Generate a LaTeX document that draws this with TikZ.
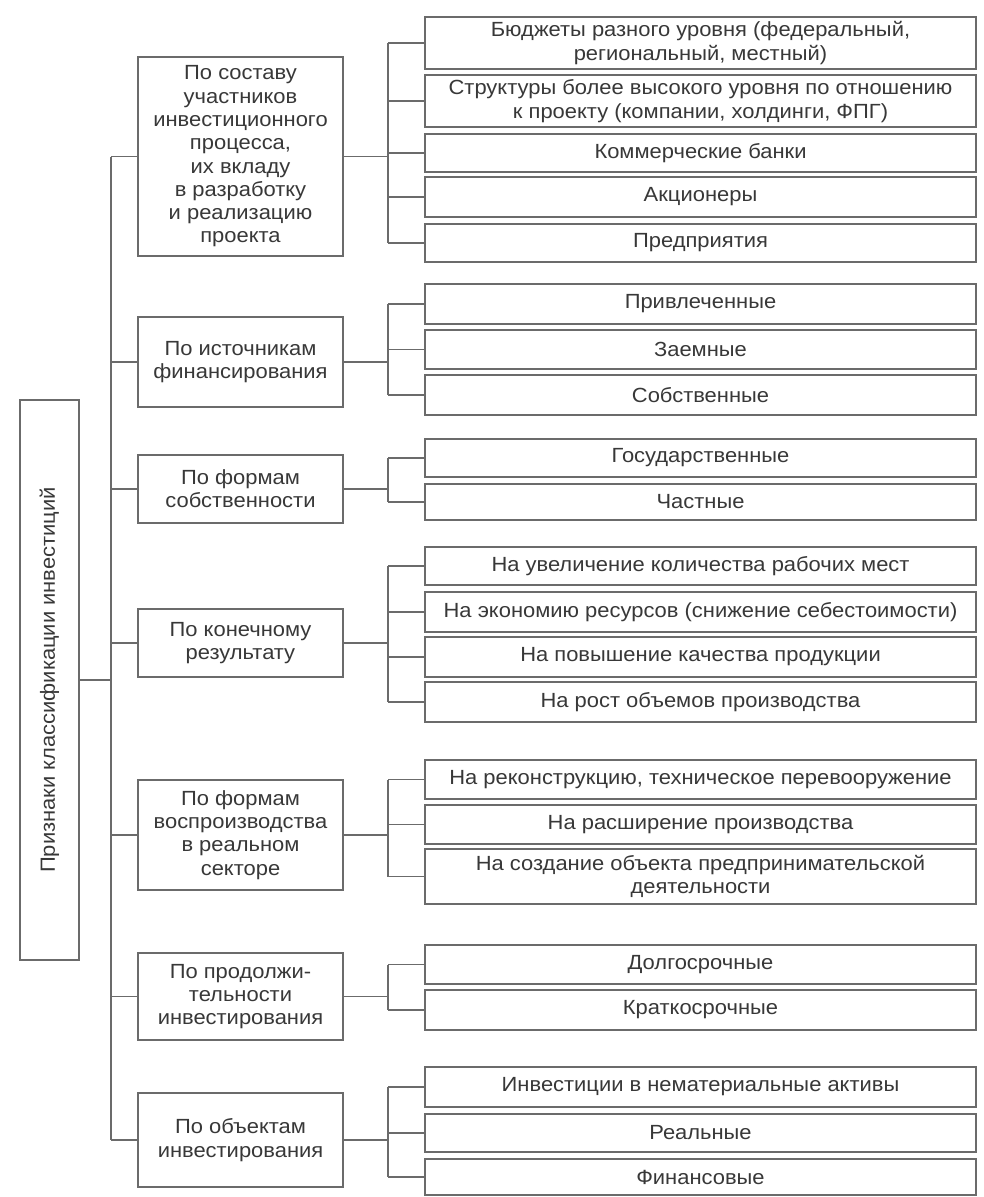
\documentclass[tikz,border=0pt]{standalone}
\usepackage{fontspec}
\setmainfont{Liberation Sans}[FakeStretch=1.07]
\definecolor{linecol}{gray}{0.42}
\definecolor{textcol}{gray}{0.22}
\newcommand\diagfont{\fontsize{20.5}{23.3}\selectfont}
\begin{document}
\begin{tikzpicture}[x=1pt,y=-1pt,
  box/.style={draw=linecol, line width=1.1pt, inner sep=0pt, align=center,
    text=textcol, font=\diagfont},
  leafbox/.style={box, minimum width=551pt},
  catbox/.style={box, minimum width=205pt},
  conn/.style={draw=linecol, line width=1.1pt}]
\fill[white] (0,0) rectangle (984,1197);
\useasboundingbox (0,0) rectangle (984,1197);

% root
\node[box, minimum width=59pt, minimum height=560pt] (root) at (49.5,680) {};
\node[rotate=90, text=textcol, font=\diagfont] (roottext) at (root.center) {Признаки классификации инвестиций};

% categories
\node[catbox, minimum height=199pt] (c1) at (240.5,156.5) {По составу\\участников\\инвестиционного\\процесса,\\их вкладу\\в разработку\\и реализацию\\проекта};
\node[catbox, minimum height=90pt] (c2) at (240.5,362) {По источникам\\финансирования};
\node[catbox, minimum height=68pt] (c3) at (240.5,489) {По формам\\собственности};
\node[catbox, minimum height=68pt] (c4) at (240.5,643) {По конечному\\результату};
\node[catbox, minimum height=110pt] (c5) at (240.5,835) {По формам\\воспроизводства\\в реальном\\секторе};
\node[catbox, minimum height=87pt] (c6) at (240.5,996.5) {По продолжи-\\тельности\\инвестирования};
\node[catbox, minimum height=94pt] (c7) at (240.5,1140) {По объектам\\инвестирования};

% leaves
\node[leafbox, minimum height=52pt] (l1) at (700.5,43) {Бюджеты разного уровня (федеральный,\\региональный, местный)};
\node[leafbox, minimum height=52pt] (l2) at (700.5,101) {Структуры более высокого уровня по отношению\\к проекту (компании, холдинги, ФПГ)};
\node[leafbox, minimum height=38pt] (l3) at (700.5,153) {Коммерческие банки};
\node[leafbox, minimum height=40pt] (l4) at (700.5,197) {Акционеры};
\node[leafbox, minimum height=38pt] (l5) at (700.5,243) {Предприятия};
\node[leafbox, minimum height=40pt] (l6) at (700.5,304) {Привлеченные};
\node[leafbox, minimum height=39pt] (l7) at (700.5,349.5) {Заемные};
\node[leafbox, minimum height=40pt] (l8) at (700.5,395) {Собственные};
\node[leafbox, minimum height=38pt] (l9) at (700.5,458) {Государственные};
\node[leafbox, minimum height=36pt] (l10) at (700.5,502) {Частные};
\node[leafbox, minimum height=38pt] (l11) at (700.5,566) {На увеличение количества рабочих мест};
\node[leafbox, minimum height=40pt] (l12) at (700.5,612) {На экономию ресурсов (снижение себестоимости)};
\node[leafbox, minimum height=40pt] (l13) at (700.5,657) {На повышение качества продукции};
\node[leafbox, minimum height=40pt] (l14) at (700.5,702) {На рост объемов производства};
\node[leafbox, minimum height=39pt] (l15) at (700.5,779.5) {На реконструкцию, техническое перевооружение};
\node[leafbox, minimum height=39pt] (l16) at (700.5,824.5) {На расширение производства};
\node[leafbox, minimum height=55pt] (l17) at (700.5,876.5) {На создание объекта предпринимательской\\деятельности};
\node[leafbox, minimum height=39pt] (l18) at (700.5,964.5) {Долгосрочные};
\node[leafbox, minimum height=40pt] (l19) at (700.5,1010) {Краткосрочные};
\node[leafbox, minimum height=40pt] (l20) at (700.5,1087) {Инвестиции в нематериальные активы};
\node[leafbox, minimum height=38pt] (l21) at (700.5,1133) {Реальные};
\node[leafbox, minimum height=36pt] (l22) at (700.5,1177) {Финансовые};

% trunk and bracket x positions
\coordinate (tk) at (111,0);
\coordinate (br) at (388,0);

% root to trunk
\draw[conn] (root.east) -- (root.east -| tk);
\draw[conn] (c1.west -| tk) -- (c7.west -| tk);
\foreach \c in {c1,c2,c3,c4,c5,c6,c7} {
  \draw[conn] (\c.west -| tk) -- (\c.west);
}

% brackets
\foreach \c/\first/\last/\list in {
  c1/l1/l5/{l1,l2,l3,l4,l5},
  c2/l6/l8/{l6,l7,l8},
  c3/l9/l10/{l9,l10},
  c4/l11/l14/{l11,l12,l13,l14},
  c5/l15/l17/{l15,l16,l17},
  c6/l18/l19/{l18,l19},
  c7/l20/l22/{l20,l21,l22}} {
  \draw[conn] (\c.east) -- (\c.east -| br);
  \draw[conn] (\first.west -| br) -- (\last.west -| br);
  \foreach \l in \list {
    \draw[conn] (\l.west -| br) -- (\l.west);
  }
}
\end{tikzpicture}
\end{document}
